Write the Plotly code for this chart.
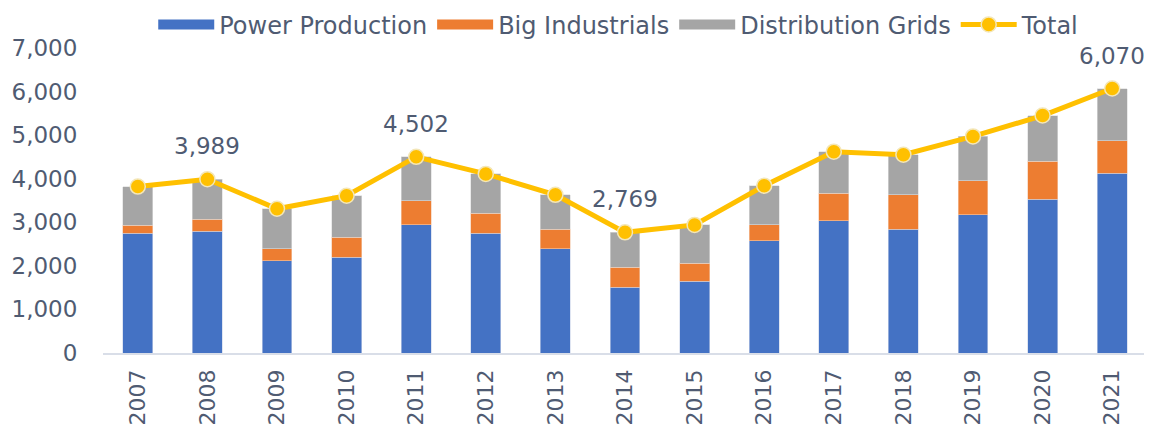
import plotly.graph_objects as go

years = [str(y) for y in range(2007, 2022)]
power = [2750, 2800, 2120, 2200, 2940, 2750, 2390, 1510, 1650, 2580, 3030, 2840, 3170, 3530, 4130]
industrial = [180, 270, 270, 460, 550, 460, 450, 460, 410, 360, 640, 790, 780, 870, 740]
grids = [890, 919, 920, 950, 1012, 900, 790, 799, 880, 900, 950, 920, 1020, 1050, 1200]
total = [p + i + g for p, i, g in zip(power, industrial, grids)]
labelled_years = ["2008", "2011", "2014", "2021"]

FONT = "Verdana, DejaVu Sans, sans-serif"
TXT = "#4f5b72"
C_BLUE, C_ORANGE, C_GRAY, C_GOLD = "#4472C4", "#ED7D31", "#A5A5A5", "#FFC000"

fig = go.Figure()
series = [("Power Production", power, C_BLUE, "#c9d3ea"),
          ("Big Industrials", industrial, C_ORANGE, "#f3c9ad"),
          ("Distribution Grids", grids, C_GRAY, "#dcdcdc")]
for name, vals, col, edge in series:
    fig.add_trace(go.Bar(x=years, y=vals, name=name, legendgroup=name, showlegend=False,
                         marker=dict(color=col, line=dict(color=edge, width=0.6))))
# legend swatches (wide rectangles like the reference)
for name, vals, col, edge in series:
    fig.add_trace(go.Scatter(x=[None], y=[None], name=name, legendgroup=name, mode="lines",
                             line=dict(color=col, width=14)))
fig.add_trace(go.Scatter(x=years, y=total, name="Total", mode="lines+markers",
                         line=dict(color=C_GOLD, width=5),
                         marker=dict(color=C_GOLD, size=15, line=dict(color="#f3e6b8", width=1.5))))

for i, (yr, t) in enumerate(zip(years, total)):
    if yr in labelled_years:
        fig.add_annotation(x=i, y=t, xref="x", yref="y", text=f"{t:,}", showarrow=False, yshift=33,
                           font=dict(family=FONT, size=23, color=TXT))

# the page body adds an 8px offset, margins compensate for it
fig.update_layout(
    barmode="stack",
    bargap=0.57,
    width=1152, height=432,
    margin=dict(l=95, r=13, t=40, b=87, autoexpand=False),
    paper_bgcolor="white", plot_bgcolor="white",
    font=dict(family=FONT, size=23, color=TXT),
    legend=dict(orientation="h", x=0.494, xanchor="center", y=0.961, yanchor="middle",
                yref="container", font=dict(size=24, color=TXT), traceorder="normal",
                itemwidth=56),
    showlegend=True,
)
fig.update_xaxes(type="category", range=[-0.5, len(years) - 0.5], tickangle=-90, showgrid=False,
                 automargin=False, showline=True, linecolor="#d9dee8", linewidth=1.5,
                 tickfont=dict(size=22, color=TXT),
                 ticks="outside", ticklen=6, tickcolor="rgba(0,0,0,0)")
fig.update_yaxes(range=[0, 7000], dtick=1000, tickformat=",", showgrid=False, zeroline=False,
                 automargin=False, showline=False, tickfont=dict(size=23, color=TXT),
                 ticks="outside", ticklen=20, tickcolor="rgba(0,0,0,0)")

fig.write_html("out.html")
